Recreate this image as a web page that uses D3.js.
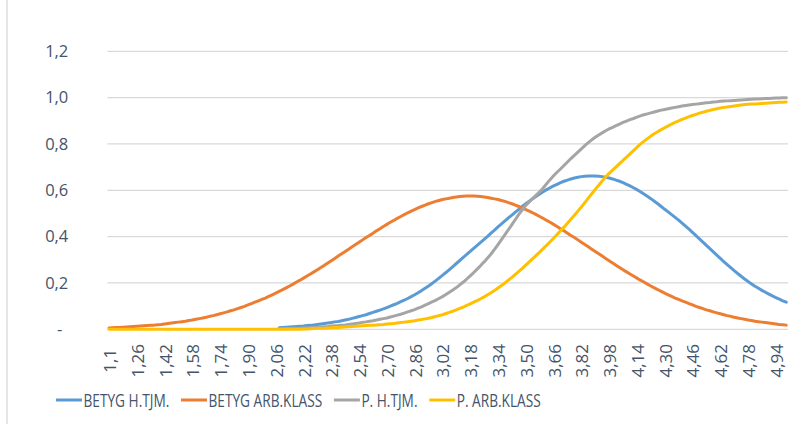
<!DOCTYPE html>
<html>
<head>
<meta charset="utf-8">
<script src="https://cdn.jsdelivr.net/npm/d3@7"></script>
<style>
  body { margin: 0; background: #ffffff; }
  #chart { width: 794px; height: 424px; }
</style>
</head>
<body>
<div id="chart"></div>
<script>
// categories go from 1,10 to 5,00 in steps of 0,02 (196 of them)
const categories = d3.range(196).map((i) => (1.10 + 0.02 * i).toFixed(2));

// only every 8th category gets a label on the x axis
const tickLabels = ["1,1", "1,26", "1,42", "1,58", "1,74", "1,90", "2,06", "2,22", "2,38",
  "2,54", "2,70", "2,86", "3,02", "3,18", "3,34", "3,50", "3,66", "3,82", "3,98",
  "4,14", "4,30", "4,46", "4,62", "4,78", "4,94"];

const yTicks = [0, 0.2, 0.4, 0.6, 0.8, 1.0, 1.2];

const seriesNames = ["BETYG H.TJM.", "BETYG ARB.KLASS", "P. H.TJM.", "P. ARB.KLASS"];
const seriesColors = ["#5b9bd5", "#ed7d31", "#a5a5a5", "#ffc000"];

// the two H.TJM. series only start at 2,08
const hTjmStart = "2.08";

// BETYG H.TJM. (from 2,08)
const betygHTjm = [
  0.007, 0.008, 0.009, 0.010, 0.011, 0.012, 0.013, 0.014, 0.016, 0.017,
  0.019, 0.021, 0.023, 0.025, 0.027, 0.029, 0.032, 0.034, 0.037, 0.040,
  0.043, 0.047, 0.051, 0.055, 0.059, 0.063, 0.068, 0.073, 0.078, 0.083,
  0.088, 0.094, 0.100, 0.106, 0.112, 0.119, 0.126, 0.133, 0.141, 0.149,
  0.158, 0.167, 0.177, 0.187, 0.198, 0.209, 0.221, 0.233, 0.245, 0.258,
  0.271, 0.284, 0.297, 0.310, 0.323, 0.336, 0.349, 0.362, 0.375, 0.388,
  0.401, 0.415, 0.428, 0.442, 0.455, 0.468, 0.481, 0.493, 0.506, 0.518,
  0.530, 0.542, 0.553, 0.564, 0.574, 0.584, 0.594, 0.603, 0.611, 0.619,
  0.626, 0.633, 0.639, 0.644, 0.649, 0.653, 0.656, 0.659, 0.661, 0.662,
  0.662,
  0.662, 0.661, 0.659, 0.656, 0.653, 0.649, 0.644, 0.639, 0.633, 0.626,
  0.619, 0.611, 0.603, 0.594, 0.584, 0.574, 0.564, 0.553, 0.542, 0.530,
  0.518, 0.507, 0.495, 0.483, 0.471, 0.458, 0.445, 0.432, 0.418, 0.404,
  0.390, 0.376, 0.362, 0.348, 0.334, 0.320, 0.306, 0.292, 0.279, 0.266,
  0.253, 0.241, 0.229, 0.217, 0.206, 0.196, 0.186, 0.177, 0.168, 0.160,
  0.152, 0.144, 0.137, 0.130, 0.123, 0.117
];

// BETYG ARB.KLASS (from 1,10)
const betygArbKlass = [
  0.006, 0.007, 0.008, 0.008, 0.009, 0.010, 0.011, 0.012, 0.013, 0.014,
  0.015, 0.016, 0.017, 0.018, 0.020, 0.021, 0.023, 0.025, 0.027, 0.029,
  0.031, 0.033, 0.035, 0.038, 0.040, 0.043, 0.046, 0.049, 0.052, 0.056,
  0.059, 0.063, 0.067, 0.071, 0.075, 0.080, 0.084, 0.089, 0.094, 0.099,
  0.105, 0.111, 0.117, 0.123, 0.129, 0.135, 0.142, 0.149, 0.156, 0.164,
  0.171, 0.179, 0.187, 0.195, 0.204, 0.212, 0.221, 0.230, 0.239, 0.248,
  0.257, 0.267, 0.276, 0.286, 0.296, 0.306, 0.316, 0.326, 0.336, 0.346,
  0.356, 0.366, 0.376, 0.386, 0.396, 0.405, 0.415, 0.425, 0.434, 0.444,
  0.453, 0.462, 0.470, 0.479, 0.487, 0.495, 0.503, 0.510, 0.517, 0.524,
  0.530, 0.536, 0.542, 0.547, 0.552, 0.556, 0.560, 0.563, 0.566, 0.569,
  0.571, 0.573, 0.574, 0.575, 0.575,
  0.575, 0.574, 0.573, 0.571, 0.569, 0.566, 0.563, 0.560, 0.556, 0.552,
  0.547, 0.542, 0.536, 0.530, 0.524, 0.517, 0.510, 0.503, 0.495, 0.487,
  0.479, 0.470, 0.462, 0.453, 0.444, 0.434, 0.425, 0.415, 0.405, 0.396,
  0.386, 0.376, 0.366, 0.356, 0.346, 0.336, 0.326, 0.316, 0.306, 0.296,
  0.286, 0.276, 0.267, 0.257, 0.248, 0.239, 0.230, 0.221, 0.212, 0.204,
  0.195, 0.187, 0.179, 0.171, 0.164, 0.156, 0.149, 0.142, 0.135, 0.129,
  0.123, 0.117, 0.111, 0.105, 0.099, 0.094, 0.089, 0.084, 0.080, 0.075,
  0.071, 0.067, 0.063, 0.059, 0.056, 0.052, 0.049, 0.046, 0.043, 0.040,
  0.038, 0.035, 0.033, 0.031, 0.029, 0.027, 0.025, 0.023, 0.021, 0.020,
  0.018
];

// P. H.TJM. (from 2,08)
const pHTjm = [
  0.002, 0.002, 0.003, 0.003, 0.004, 0.004, 0.005, 0.006, 0.007, 0.007,
  0.008, 0.009, 0.010, 0.011, 0.012, 0.014, 0.015, 0.016, 0.018, 0.019,
  0.021, 0.023, 0.025, 0.027, 0.030, 0.032, 0.035, 0.037, 0.040, 0.043,
  0.046, 0.049, 0.053, 0.057, 0.061, 0.065, 0.070, 0.075, 0.080, 0.085,
  0.091, 0.097, 0.104, 0.111, 0.118, 0.125, 0.133, 0.141, 0.150, 0.160,
  0.170, 0.180, 0.192, 0.204, 0.217, 0.231, 0.245, 0.260, 0.275, 0.291,
  0.308, 0.325, 0.345, 0.366, 0.387, 0.409, 0.430, 0.452, 0.474, 0.496,
  0.516, 0.535, 0.550, 0.565, 0.579, 0.594, 0.610, 0.628, 0.646, 0.663,
  0.678, 0.692, 0.707, 0.722, 0.737, 0.751, 0.765, 0.779, 0.793, 0.806,
  0.818, 0.829, 0.839, 0.848, 0.857, 0.865, 0.872, 0.879, 0.886, 0.893,
  0.899, 0.905, 0.910, 0.916, 0.921, 0.926, 0.930, 0.934, 0.938, 0.942,
  0.946, 0.949, 0.952, 0.955, 0.958, 0.961, 0.964, 0.966, 0.968, 0.970,
  0.972, 0.974, 0.976, 0.978, 0.979, 0.981, 0.982, 0.984, 0.985, 0.986,
  0.987, 0.988, 0.989, 0.990, 0.991, 0.992, 0.993, 0.994, 0.994, 0.995,
  0.996, 0.996, 0.997, 0.998, 0.998, 0.999, 1.000
];

// P. ARB.KLASS (from 1,10)
const pArbKlass = [
  0, 0, 0, 0, 0, 0, 0, 0, 0, 0,
  0, 0, 0, 0, 0, 0, 0, 0, 0, 0,
  0, 0, 0, 0, 0, 0, 0, 0, 0, 0,
  0, 0, 0, 0, 0, 0, 0, 0, 0, 0,
  0, 0, 0, 0, 0, 0, 0, 0, 0, 0,
  0, 0, 0, 0, 0, 0,
  0.001, 0.001, 0.002, 0.003, 0.004, 0.004, 0.005, 0.006, 0.007, 0.008,
  0.008, 0.009, 0.010, 0.011, 0.012, 0.013, 0.014, 0.015, 0.016, 0.017,
  0.018, 0.019, 0.020, 0.021, 0.023, 0.024, 0.025, 0.027, 0.029, 0.031,
  0.033, 0.035, 0.037, 0.040, 0.042, 0.045, 0.048, 0.051, 0.055, 0.059,
  0.063, 0.068, 0.073, 0.078, 0.084, 0.090, 0.096, 0.103, 0.110, 0.117,
  0.124, 0.132, 0.140, 0.149, 0.158, 0.168, 0.178, 0.189, 0.200, 0.212,
  0.224, 0.237, 0.250, 0.263, 0.277, 0.291, 0.305, 0.319, 0.333, 0.348,
  0.363, 0.378, 0.393, 0.409, 0.425, 0.441, 0.458, 0.475, 0.492, 0.510,
  0.528, 0.547, 0.566, 0.585, 0.604, 0.622, 0.640, 0.657, 0.673, 0.687,
  0.701, 0.715, 0.729, 0.743, 0.757, 0.771, 0.785, 0.799, 0.811, 0.823,
  0.834, 0.844, 0.853, 0.862, 0.870, 0.878, 0.886, 0.893, 0.900, 0.906,
  0.912, 0.918, 0.923, 0.928, 0.933, 0.937, 0.941, 0.945, 0.949, 0.952,
  0.955, 0.958, 0.960, 0.962, 0.964, 0.966, 0.968, 0.970, 0.971, 0.972,
  0.973, 0.974, 0.975, 0.976, 0.977, 0.978, 0.979, 0.980, 0.980, 0.981
];

const width = 794;
const height = 424;
const margin = { top: 51.3, right: 6, bottom: 94.7, left: 107.3 };

const svg = d3
  .select("#chart")
  .append("svg")
  .attr("width", width)
  .attr("height", height)
  .attr("viewBox", [0, 0, width, height]);

// light border on the left side of the chart area
svg.append("line")
  .attr("x1", 7).attr("x2", 7)
  .attr("y1", 0).attr("y2", height)
  .attr("stroke", "#d9d9d9")
  .attr("stroke-width", 1.3);

// scales
const xScale = d3.scalePoint()
  .domain(categories)
  .range([margin.left, width - margin.right])
  .padding(0.5);

const yScale = d3.scaleLinear()
  .domain([0, 1.2])
  .range([height - margin.bottom, margin.top]);

// horizontal gridlines (0 is the axis line itself)
svg.append("g")
  .selectAll("line")
  .data(yTicks)
  .enter()
  .append("line")
    .attr("x1", margin.left)
    .attr("x2", width - margin.right)
    .attr("y1", (d) => yScale(d))
    .attr("y2", (d) => yScale(d))
    .attr("stroke", "#d9d9d9")
    .attr("stroke-width", 1.3);

// y axis labels, "-" for zero like Excel's accounting format
const yAxis = svg.append("g")
  .attr("transform", `translate(${margin.left - 39}, 0)`)
  .call(d3.axisLeft(yScale)
    .tickValues(yTicks)
    .tickSize(0)
    .tickPadding(0)
    .tickFormat((d) => d === 0 ? "-" : d3.format(".1f")(d).replace(".", ",")));
yAxis.select(".domain").remove();
yAxis.selectAll("text")
  .attr("font-family", "'Open Sans', 'Noto Sans', sans-serif")
  .attr("font-size", "16.5px")
  .attr("fill", "#44546a")
  .attr("dx", (d) => d === 0 ? "-6px" : 0);

// x axis labels, rotated, every 8th category
const tickCats = categories.filter((c, i) => i % 8 === 0);
const xAxis = svg.append("g")
  .attr("transform", `translate(0, ${height - margin.bottom})`)
  .call(d3.axisBottom(xScale)
    .tickValues(tickCats)
    .tickSize(0)
    .tickFormat((c) => tickLabels[tickCats.indexOf(c)]));
xAxis.select(".domain").remove();
xAxis.selectAll("text")
  .attr("font-family", "'Open Sans', 'Noto Sans', sans-serif")
  .attr("font-size", "17px")
  .attr("fill", "#44546a")
  .attr("text-anchor", "middle")
  .attr("dominant-baseline", "central")
  .attr("dy", null)
  .attr("y", 0)
  .attr("transform", "translate(0, 31.5) rotate(-90)");

// put the series together as [category, value] pairs
const startIdx = categories.indexOf(hTjmStart);
const allSeries = [
  betygHTjm.map((v, k) => [categories[startIdx + k], v]),
  betygArbKlass.map((v, k) => [categories[k], v]),
  pHTjm.map((v, k) => [categories[startIdx + k], v]),
  pArbKlass.map((v, k) => [categories[k], v])
];

const line = d3.line()
  .x((d) => xScale(d[0]))
  .y((d) => yScale(d[1]));

svg.append("g")
  .selectAll("path")
  .data(allSeries)
  .enter()
  .append("path")
    .attr("d", line)
    .attr("fill", "none")
    .attr("stroke", (d, i) => seriesColors[i])
    .attr("stroke-width", 3)
    .attr("stroke-linejoin", "round")
    .attr("stroke-linecap", "round");

// legend at the bottom - the legend font is a narrow one, so squeeze it
const squeeze = 0.76;
const legend = svg.append("g").attr("transform", "translate(56, 400)");
let lx = 0;
seriesNames.forEach((name, i) => {
  legend.append("line")
    .attr("x1", lx).attr("x2", lx + 26)
    .attr("y1", 0).attr("y2", 0)
    .attr("stroke", seriesColors[i])
    .attr("stroke-width", 3);
  const t = legend.append("g")
    .attr("transform", `translate(${lx + 27.5}, 0) scale(${squeeze}, 1)`)
    .append("text")
      .attr("dominant-baseline", "central")
      .attr("font-family", "'Open Sans', 'Noto Sans', sans-serif")
      .attr("font-size", "18px")
      .attr("fill", "#44546a")
      .text(name);
  lx += 27.5 + t.node().getComputedTextLength() * squeeze + 11.7;
});
</script>
</body>
</html>
